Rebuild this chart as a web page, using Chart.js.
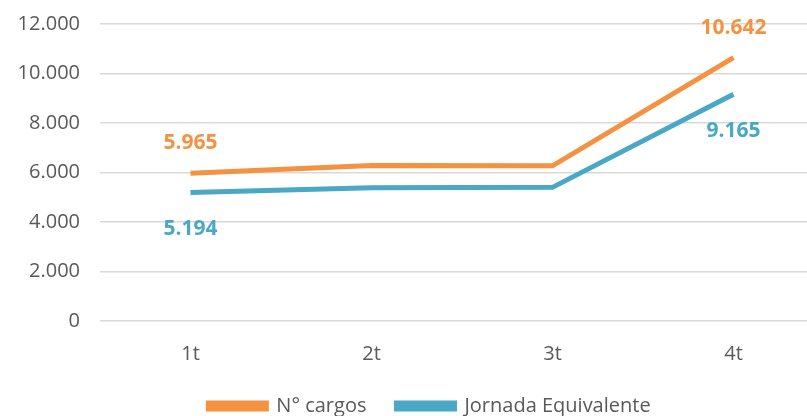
<!DOCTYPE html>
<html>
<head>
<meta charset="utf-8">
<script src="https://cdn.jsdelivr.net/npm/chart.js@4"></script>
<style>
  html, body { margin: 0; padding: 0; background: #fff; }
</style>
</head>
<body>
<canvas id="chart" width="807" height="416"></canvas>
<script>
const categories = ["1t", "2t", "3t", "4t"];
const cargos = [5965, 6280, 6270, 10642];
const jornada = [5194, 5380, 5400, 9165];
const yTicks = [0, 2000, 4000, 6000, 8000, 10000, 12000];
// points that carry a value label
const labelledPoints = [0, 3];

const FONT = "'Open Sans', sans-serif";
const fmt = v => v.toLocaleString("de-DE");

// draw the value labels over first and last point
const valueLabels = {
  id: "valueLabels",
  afterDatasetsDraw(chart) {
    const ctx = chart.ctx;
    ctx.save();
    ctx.font = "bold 21px " + FONT;
    ctx.textAlign = "center";
    ctx.textBaseline = "middle";
    chart.data.datasets.forEach((ds, i) => {
      const meta = chart.getDatasetMeta(i);
      labelledPoints.forEach(idx => {
        const pt = meta.data[idx];
        const dy = ds.labelSide === "above" ? -30 : 37;
        ctx.fillStyle = ds.borderColor;
        ctx.fillText(fmt(ds.data[idx]), pt.x, pt.y + dy);
      });
    });
    ctx.restore();
  }
};

// pin the plot box where the original has it: it runs past the right edge
const tweakLayout = {
  id: "tweakLayout",
  afterLayout(chart) {
    const area = chart.chartArea;
    area.top = 24; area.bottom = 321; area.height = 297;
    const y = chart.scales.y;
    y.top = 24; y.bottom = 321; y.height = 297;
    y.configure();
    const x = chart.scales.x;
    x.right = 824;
    x.width = x.right - x.left;
    x.top = 321; x.bottom = 321 + x.height;
    x.configure();
    const lg = chart.legend;
    lg.top = 366; lg.bottom = 366 + lg.height;
    lg.left += 26; lg.right += 26;
  }
};

new Chart(document.getElementById("chart"), {
  type: "line",
  data: {
    labels: categories,
    datasets: [
      {
        label: "N° cargos",
        data: cargos,
        borderColor: "#F39241",
        backgroundColor: "#F39241",
        borderWidth: 5,
        pointRadius: 0,
        tension: 0,
        labelSide: "above"
      },
      {
        label: "Jornada Equivalente",
        data: jornada,
        borderColor: "#48A8C5",
        backgroundColor: "#48A8C5",
        borderWidth: 5,
        pointRadius: 0,
        tension: 0,
        labelSide: "below"
      }
    ]
  },
  options: {
    responsive: false,
    animation: false,
    layout: { padding: 0 },
    scales: {
      x: {
        offset: true,
        grid: { display: false },
        border: { display: false },
        ticks: { color: "#595959", font: { size: 20, family: FONT }, padding: 13 }
      },
      y: {
        min: 0,
        max: 12000,
        afterFit: s => { s.width = 100; },
        afterBuildTicks: s => { s.ticks = yTicks.map(v => ({ value: v })); },
        grid: { color: "#d9d9d9", lineWidth: 1.5, drawTicks: false },
        border: { display: false },
        ticks: {
          color: "#595959",
          font: { size: 20, family: FONT },
          padding: 20,
          callback: v => fmt(v)
        }
      }
    },
    plugins: {
      legend: {
        position: "bottom",
        labels: {
          boxWidth: 58,
          boxHeight: 6,
          padding: 30,
          color: "#595959",
          font: { size: 20, family: FONT }
        }
      },
      tooltip: { enabled: false }
    }
  },
  plugins: [valueLabels, tweakLayout]
});
</script>
</body>
</html>
